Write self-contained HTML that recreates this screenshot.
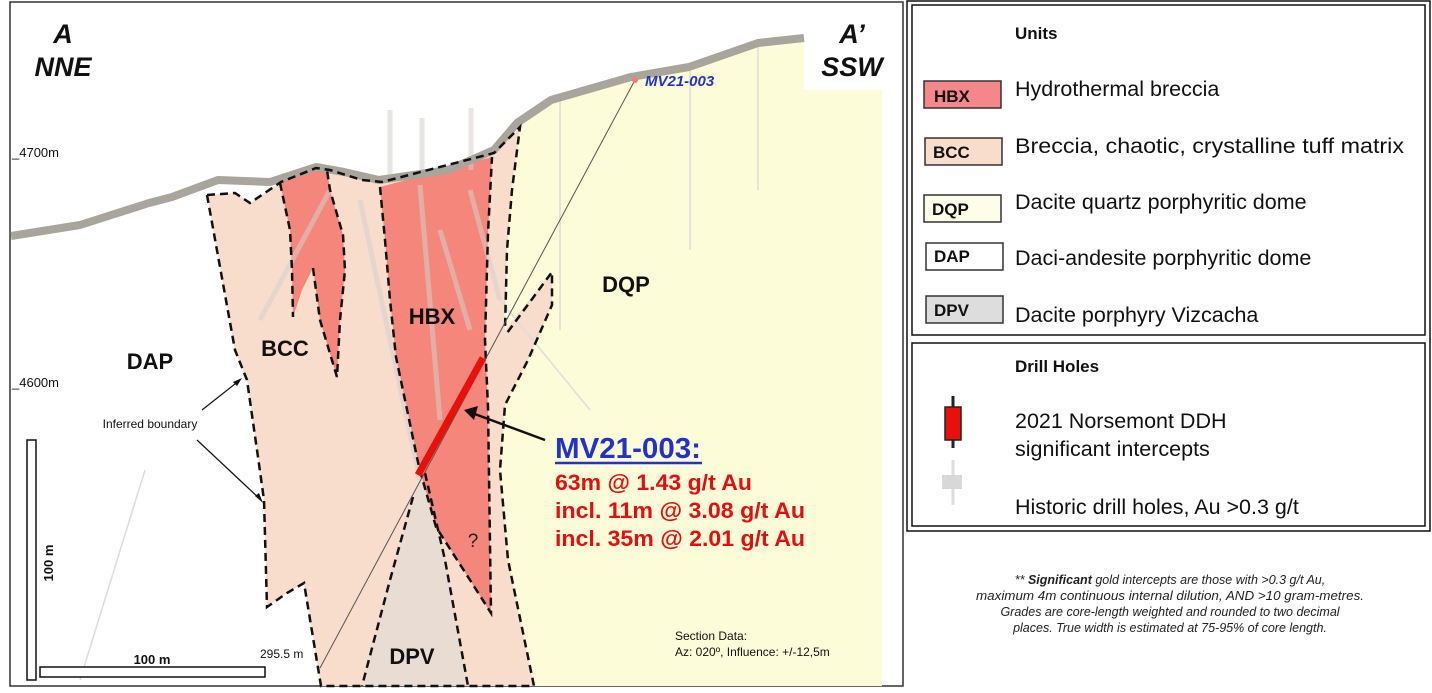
<!DOCTYPE html>
<html><head><meta charset="utf-8"><style>
html,body{margin:0;padding:0;background:#fff;}
body{width:1432px;height:693px;overflow:hidden;position:relative;font-family:"Liberation Sans",sans-serif;}
</style></head><body>
<svg width="1432" height="693" viewBox="0 0 1432 693" xmlns="http://www.w3.org/2000/svg" style="position:absolute;left:0;top:0">
<rect x="10" y="2" width="893" height="684" fill="#fff" stroke="#333" stroke-width="1.5"/>
<polygon points="494,150 517,123 551,100 631,77 689,67 758,43 804,38 804,90 882,90 882,686 534,686 508,560 500,470 505,405 528,340 552,305 552,272 507,333 507,250 512,190 520,127" fill="#fdfcd8"/>
<polygon points="207,195 235,193 250,203 281,182 316,168 330,170 362,180 382,182 494,153 520,127 512,190 507,250 505,330 552,272 552,305 528,360 505,405 500,470 508,560 534,686 321,686 304,583 287,593 267,607 264,500 258,457 247,380 235,350" fill="#f8dccc"/>
<polygon points="413,497 425,473 445,560 468,686 362,686 390,580" fill="#e9dcd3"/>
<polygon points="380,187 492,157 488,233 485,340 488,407 491,613 470,580 436,527 419,467 396,357 390,300 385,240" fill="#f4867b"/>
<polygon points="280,183 300,172 327,170 330,190 343,235 345,270 340,320 337,377 320,320 313,268 302,290 293,317 292,270 290,230" fill="#f4867b"/>
<g stroke="#d8d0cc" stroke-width="5" opacity="0.55" fill="none">
<line x1="390" y1="110" x2="390" y2="180"/><line x1="422" y1="118" x2="422" y2="175"/><line x1="471" y1="108" x2="471" y2="170"/>
<line x1="420" y1="185" x2="440" y2="420"/><line x1="330" y1="190" x2="260" y2="320"/><line x1="360" y1="200" x2="420" y2="480"/>
<line x1="470" y1="190" x2="500" y2="300"/><line x1="440" y1="230" x2="470" y2="330"/>
</g>
<g stroke="#ddd" stroke-width="1.5" fill="none">
<line x1="145" y1="470" x2="80" y2="680"/><line x1="500" y1="300" x2="590" y2="410"/>
<line x1="560" y1="100" x2="560" y2="330"/><line x1="690" y1="70" x2="690" y2="250"/><line x1="758" y1="45" x2="758" y2="190"/>
</g>
<polyline points="11,236 80,225 149,203 172,197 218,180 270,182 316,167 344,172 379,180 448,170 494,150 517,123 551,100 631,77 689,67 758,43 804,38" fill="none" stroke="#a9a59d" stroke-width="8" stroke-linejoin="round"/>
<g fill="none" stroke="#111" stroke-width="2.5" stroke-dasharray="8,5">
<polyline points="207,195 235,193 250,203 281,182 316,168 330,170 362,180 382,182 494,153 520,127 512,190 507,250 505,330"/>
<polyline points="207,195 235,350 247,380 258,457 264,500 267,607 287,593 304,583 321,686 534,686 508,560 500,470 505,405 528,360 552,305 552,272 507,333"/>
<polyline points="280,183 290,230 292,270 293,317"/>
<polyline points="313,268 320,320 337,377 340,320 345,270 343,235 330,190 327,170"/>
<polyline points="380,187 385,240 390,300 396,357 419,467 436,527 470,580 491,613 488,407 485,340 488,233 492,157"/>
<polyline points="413,497 390,580 362,686"/>
<polyline points="425,473 445,560 468,686"/>
</g>
<line x1="635" y1="80" x2="320" y2="668" stroke="#555" stroke-width="1"/>
<circle cx="635" cy="80" r="3" fill="#f08070"/>
<line x1="483" y1="358" x2="418" y2="475" stroke="#e8100a" stroke-width="7"/>
<line x1="545" y1="440" x2="472" y2="413" stroke="#111" stroke-width="2.5"/>
<polygon points="464,410 478,406 474,420" fill="#111"/>
<g stroke="#111" stroke-width="1.2">
<line x1="202" y1="410" x2="240" y2="380"/><line x1="197" y1="440" x2="261" y2="500"/></g>
<polygon points="242,378 233,382 237,386" fill="#111"/><polygon points="263,503 255,496 259,493" fill="#111"/>
<rect x="27" y="440" width="9" height="240" fill="#fff" stroke="#111" stroke-width="1.5"/>
<rect x="40" y="667" width="225" height="10" fill="#fff" stroke="#111" stroke-width="1.5"/>
<g font-family="Liberation Sans,sans-serif" font-weight="bold" font-style="italic" font-size="27" fill="#111" text-anchor="middle">
<text x="63" y="43">A</text><text x="63" y="76">NNE</text>
<text x="852" y="43">A’</text><text x="852" y="76">SSW</text></g>
<text x="645" y="86" font-size="15" font-weight="bold" font-style="italic" fill="#2333c8">MV21-003</text>
<g font-size="13" fill="#111"><text x="12" y="157">_4700m</text><text x="12" y="387">_4600m</text></g>
<g font-weight="bold" font-size="22" fill="#111" text-anchor="middle">
<text x="150" y="369">DAP</text><text x="285" y="356">BCC</text><text x="432" y="324">HBX</text><text x="626" y="292">DQP</text><text x="412" y="664">DPV</text></g>
<text x="473" y="547" font-size="19" fill="#222" text-anchor="middle">?</text>
<text x="150" y="428" font-size="12" fill="#111" text-anchor="middle">Inferred boundary</text>
<text x="152" y="664" font-size="13" font-weight="bold" fill="#111" text-anchor="middle">100 m</text>
<text x="0" y="0" font-size="13" font-weight="bold" fill="#111" text-anchor="middle" transform="translate(53,563) rotate(-90)">100 m</text>
<text x="260" y="658" font-size="12" fill="#111">295.5 m</text>
<text x="675" y="640" font-size="12" fill="#111">Section Data:</text>
<text x="675" y="656" font-size="12" fill="#111">Az: 020º, Influence: +/-12,5m</text>
<text x="555" y="458" font-size="29" font-weight="bold" fill="#2333c8" textLength="146" lengthAdjust="spacingAndGlyphs">MV21-003:</text>
<line x1="555" y1="463" x2="702" y2="463" stroke="#2333c8" stroke-width="2.5"/>
<g font-size="22" font-weight="bold" fill="#e01010">
<text x="555" y="490" textLength="197" lengthAdjust="spacingAndGlyphs">63m @ 1.43 g/t Au</text>
<text x="555" y="518" textLength="250" lengthAdjust="spacingAndGlyphs">incl. 11m @ 3.08 g/t Au</text>
<text x="555" y="546" textLength="250" lengthAdjust="spacingAndGlyphs">incl. 35m @ 2.01 g/t Au</text></g>
<rect x="907" y="1" width="523" height="530" fill="#fff" stroke="#111" stroke-width="1.5"/>
<rect x="912" y="5" width="513" height="330" fill="none" stroke="#111" stroke-width="1.5"/>
<rect x="912" y="343" width="513" height="183" fill="none" stroke="#111" stroke-width="1.5"/>
<text x="1015" y="39" font-size="17" font-weight="bold" fill="#111">Units</text>
<g stroke="#333" stroke-width="1.5">
<rect x="924" y="81" width="77" height="27" fill="#f4878a"/>
<rect x="925" y="138" width="77" height="27" fill="#f8dccc"/>
<rect x="924" y="195" width="77" height="27" fill="#fdfdea"/>
<rect x="926" y="243" width="77" height="27" fill="#fff"/>
<rect x="926" y="296" width="77" height="27" fill="#ddd"/></g>
<g font-size="17" font-weight="bold" fill="#111">
<text x="934" y="102">HBX</text><text x="933" y="158">BCC</text><text x="932" y="215">DQP</text><text x="934" y="262">DAP</text><text x="934" y="316">DPV</text></g>
<g font-size="21.5" fill="#111">
<text x="1015" y="96">Hydrothermal breccia</text>
<text x="1015" y="153" textLength="389" lengthAdjust="spacingAndGlyphs">Breccia, chaotic, crystalline tuff matrix</text>
<text x="1015" y="209">Dacite quartz porphyritic dome</text>
<text x="1015" y="265">Daci-andesite porphyritic dome</text>
<text x="1015" y="322">Dacite porphyry Vizcacha</text>
<text x="1015" y="428">2021 Norsemont DDH</text>
<text x="1015" y="456">significant intercepts</text>
<text x="1015" y="514">Historic drill holes, Au &gt;0.3 g/t</text></g>
<text x="1015" y="372" font-size="17" font-weight="bold" fill="#111">Drill Holes</text>
<line x1="953" y1="396" x2="953" y2="448" stroke="#222" stroke-width="3"/>
<rect x="945" y="407" width="16" height="33" fill="#e8100a" stroke="#222" stroke-width="1.5"/>
<line x1="953" y1="460" x2="953" y2="505" stroke="#ddd" stroke-width="3"/>
<rect x="942" y="475" width="20" height="14" fill="#d8d8d8"/>
<g font-size="12.5" font-style="italic" fill="#222" text-anchor="middle">
<text x="1170" y="584">** <tspan font-weight="bold">Significant</tspan> gold intercepts are those with &gt;0.3 g/t Au,</text>
<text x="1170" y="600" textLength="388" lengthAdjust="spacingAndGlyphs">maximum 4m continuous internal dilution, AND &gt;10 gram-metres.</text>
<text x="1170" y="616">Grades are core-length weighted and rounded to two decimal</text>
<text x="1170" y="632">places. True width is estimated at 75-95% of core length.</text></g>
</svg>
</body></html>
